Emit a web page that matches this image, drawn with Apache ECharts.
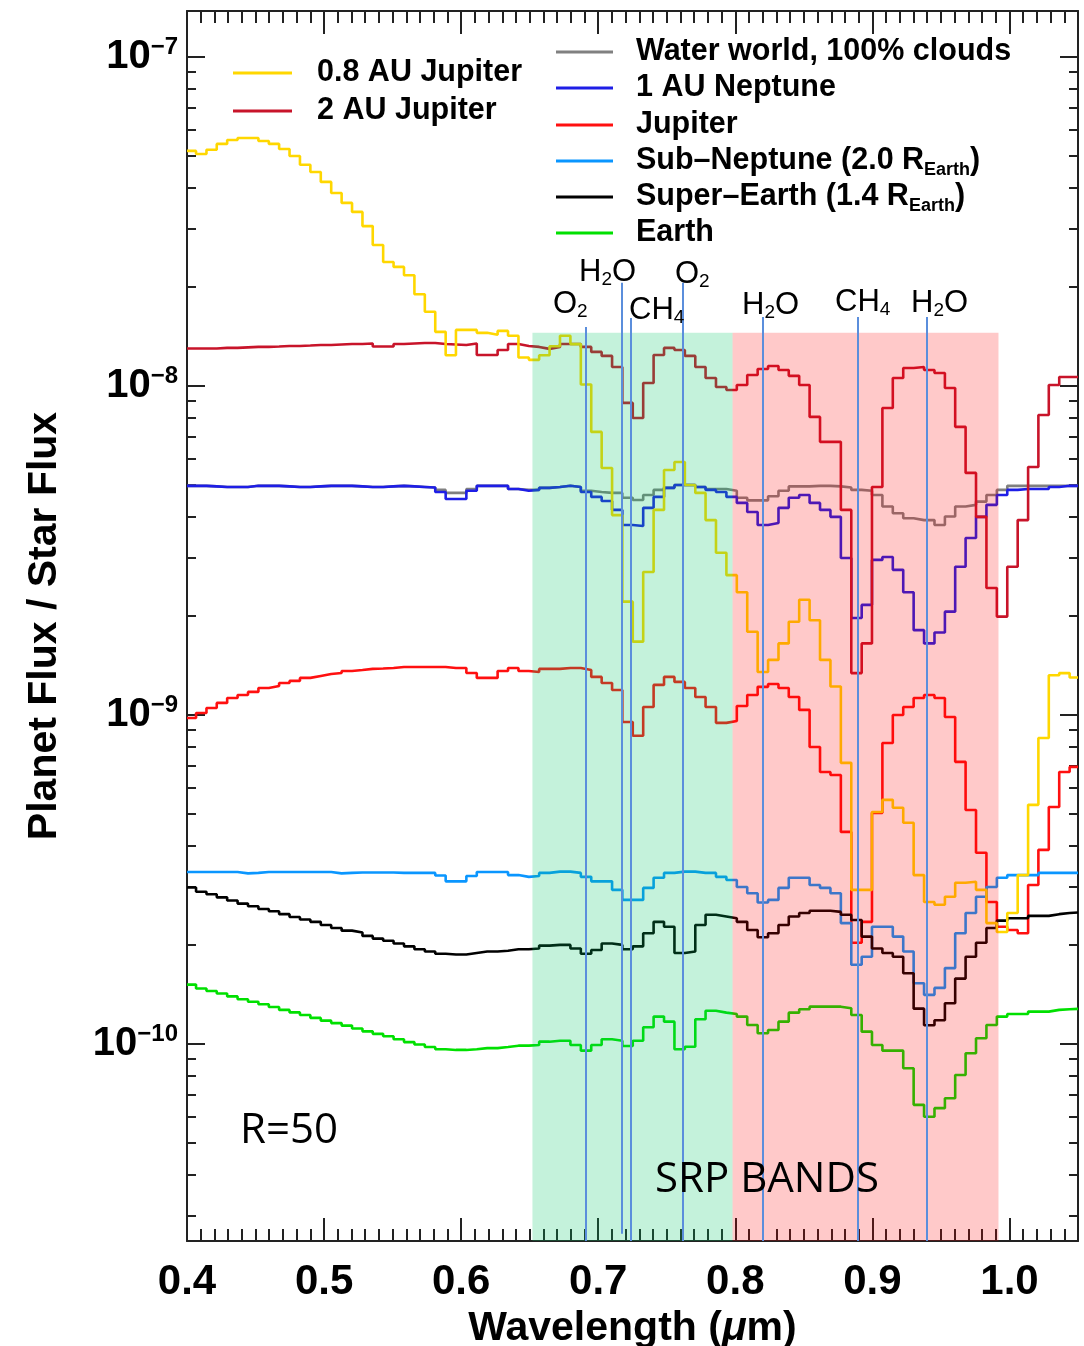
<!DOCTYPE html>
<html>
<head>
<meta charset="utf-8">
<script src="https://cdn.jsdelivr.net/npm/echarts@6/dist/echarts.min.js"></script>
<style>
html,body{margin:0;padding:0;background:#ffffff;}
#c{width:1084px;height:1346px;}
</style>
</head>
<body>
<div id="c"></div>
<script>
// ---------------- DATA ----------------
// bin start wavelengths (micron), step histogram
const WAVELENGTH = [
0.4000,0.4066,0.4142,0.4217,0.4293,0.4369,0.4445,0.4521,0.4597,0.4672,
0.4748,0.4824,0.4900,0.4976,0.5052,0.5128,0.5204,0.5280,0.5355,0.5431,
0.5507,0.5583,0.5659,0.5735,0.5811,0.5887,0.5962,0.6038,0.6114,0.6190,
0.6266,0.6342,0.6418,0.6494,0.6569,0.6645,0.6721,0.6797,0.6873,0.6949,
0.7025,0.7101,0.7176,0.7252,0.7328,0.7404,0.7480,0.7556,0.7632,0.7708,
0.7783,0.7859,0.7935,0.8011,0.8087,0.8163,0.8239,0.8315,0.8390,0.8466,
0.8542,0.8618,0.8694,0.8770,0.8846,0.8922,0.8997,0.9073,0.9149,0.9225,
0.9301,0.9377,0.9453,0.9529,0.9604,0.9680,0.9756,0.9832,0.9908,0.9984,
1.0060,1.0136,1.0211,1.0287,1.0363,1.0439];
const WAVELENGTH_END = 1.05;

const JUPITER_08AU = [
5.18e-8,5.07e-8,5.22e-8,5.44e-8,5.59e-8,5.67e-8,5.67e-8,5.55e-8,5.44e-8,5.25e-8,
5.00e-8,4.70e-8,4.47e-8,4.17e-8,3.86e-8,3.60e-8,3.38e-8,3.06e-8,2.68e-8,2.38e-8,
2.30e-8,2.17e-8,1.90e-8,1.68e-8,1.46e-8,1.24e-8,1.48e-8,1.48e-8,1.45e-8,1.43e-8,
1.47e-8,1.42e-8,1.22e-8,1.20e-8,1.24e-8,1.32e-8,1.42e-8,1.34e-8,1.01e-8,7.25e-9,
5.63e-9,4.05e-9,2.21e-9,1.67e-9,2.72e-9,4.20e-9,5.55e-9,5.87e-9,5.00e-9,4.73e-9,
3.91e-9,3.11e-9,2.66e-9,2.36e-9,1.79e-9,1.35e-9,1.47e-9,1.65e-9,1.92e-9,2.24e-9,
1.94e-9,1.47e-9,1.22e-9,7.15e-10,2.94e-10,2.94e-10,5.07e-10,5.52e-10,5.22e-10,4.70e-10,
3.26e-10,2.70e-10,2.65e-10,2.80e-10,3.09e-10,3.11e-10,2.94e-10,2.33e-10,2.19e-10,2.50e-10,
3.26e-10,5.33e-10,8.51e-10,1.32e-9,1.34e-9,1.30e-9];

const JUPITER_2AU = [
1.300e-8,1.300e-8,1.300e-8,1.305e-8,1.305e-8,1.310e-8,1.314e-8,1.314e-8,1.318e-8,1.323e-8,
1.323e-8,1.327e-8,1.332e-8,1.332e-8,1.337e-8,1.341e-8,1.341e-8,1.346e-8,1.318e-8,1.318e-8,
1.341e-8,1.346e-8,1.351e-8,1.351e-8,1.341e-8,1.337e-8,1.332e-8,1.346e-8,1.242e-8,1.242e-8,
1.286e-8,1.341e-8,1.323e-8,1.314e-8,1.296e-8,1.314e-8,1.341e-8,1.341e-8,1.314e-8,1.269e-8,
1.234e-8,1.142e-8,8.88e-9,7.99e-9,1.021e-8,1.242e-8,1.305e-8,1.286e-8,1.234e-8,1.142e-8,
1.057e-8,9.93e-9,9.72e-9,1.007e-8,1.080e-8,1.126e-8,1.150e-8,1.118e-8,1.073e-8,1.007e-8,
8.05e-9,6.76e-9,6.76e-9,4.20e-9,1.34e-9,1.65e-9,4.93e-9,8.57e-9,1.057e-8,1.134e-8,
1.142e-8,1.118e-8,1.095e-8,9.86e-9,7.51e-9,5.44e-9,4.00e-9,2.43e-9,1.99e-9,2.82e-9,
3.91e-9,5.67e-9,8.16e-9,1.007e-8,1.065e-8,1.065e-8];

const WATER_WORLD = [
4.97e-9,4.97e-9,4.95e-9,4.93e-9,4.93e-9,4.93e-9,4.97e-9,4.97e-9,4.97e-9,4.95e-9,
4.93e-9,4.93e-9,4.95e-9,4.97e-9,4.97e-9,4.97e-9,4.95e-9,4.93e-9,4.93e-9,4.95e-9,
4.97e-9,4.95e-9,4.93e-9,4.91e-9,4.83e-9,4.73e-9,4.73e-9,4.86e-9,4.97e-9,4.97e-9,
4.97e-9,4.86e-9,4.83e-9,4.83e-9,4.90e-9,4.93e-9,4.97e-9,4.93e-9,4.80e-9,4.76e-9,
4.73e-9,4.73e-9,4.57e-9,4.50e-9,4.66e-9,4.83e-9,4.90e-9,5.00e-9,5.00e-9,4.93e-9,
4.86e-9,4.86e-9,4.80e-9,4.57e-9,4.49e-9,4.49e-9,4.62e-9,4.80e-9,4.95e-9,4.95e-9,
4.97e-9,4.97e-9,4.95e-9,4.91e-9,4.83e-9,4.80e-9,4.66e-9,4.30e-9,4.10e-9,3.96e-9,
3.91e-9,3.91e-9,3.78e-9,4.01e-9,4.30e-9,4.35e-9,4.45e-9,4.66e-9,4.83e-9,4.97e-9,
4.97e-9,4.97e-9,4.97e-9,4.97e-9,4.97e-9,4.97e-9];

const NEPTUNE_1AU = [
4.97e-9,4.97e-9,4.95e-9,4.93e-9,4.93e-9,4.93e-9,4.97e-9,4.97e-9,4.97e-9,4.95e-9,
4.93e-9,4.93e-9,4.95e-9,4.97e-9,4.97e-9,4.97e-9,4.95e-9,4.93e-9,4.93e-9,4.95e-9,
4.97e-9,4.95e-9,4.93e-9,4.91e-9,4.76e-9,4.53e-9,4.53e-9,4.80e-9,4.97e-9,4.97e-9,
4.97e-9,4.86e-9,4.80e-9,4.83e-9,4.90e-9,4.93e-9,4.97e-9,4.93e-9,4.76e-9,4.60e-9,
4.47e-9,4.20e-9,3.78e-9,3.75e-9,4.26e-9,4.60e-9,4.90e-9,5.00e-9,5.00e-9,4.93e-9,
4.83e-9,4.76e-9,4.60e-9,4.41e-9,4.14e-9,3.78e-9,3.83e-9,4.26e-9,4.57e-9,4.66e-9,
4.41e-9,4.20e-9,4.00e-9,3.00e-9,1.97e-9,2.16e-9,2.96e-9,3.02e-9,2.76e-9,2.36e-9,
1.81e-9,1.65e-9,1.78e-9,2.06e-9,2.82e-9,3.45e-9,4.00e-9,4.35e-9,4.66e-9,4.83e-9,
4.86e-9,4.86e-9,4.86e-9,4.93e-9,4.97e-9,4.97e-9];

const JUPITER = [
9.79e-10,1.014e-9,1.050e-9,1.088e-9,1.126e-9,1.150e-9,1.175e-9,1.208e-9,1.225e-9,1.251e-9,
1.269e-9,1.296e-9,1.314e-9,1.332e-9,1.341e-9,1.360e-9,1.370e-9,1.380e-9,1.384e-9,1.389e-9,
1.399e-9,1.399e-9,1.399e-9,1.399e-9,1.399e-9,1.389e-9,1.389e-9,1.341e-9,1.296e-9,1.296e-9,
1.360e-9,1.389e-9,1.360e-9,1.351e-9,1.380e-9,1.380e-9,1.389e-9,1.389e-9,1.370e-9,1.305e-9,
1.251e-9,1.191e-9,9.52e-10,8.64e-10,1.057e-9,1.234e-9,1.305e-9,1.260e-9,1.208e-9,1.134e-9,
1.057e-9,9.46e-10,9.59e-10,1.065e-9,1.150e-9,1.217e-9,1.242e-9,1.208e-9,1.134e-9,1.036e-9,
7.99e-10,6.71e-10,6.57e-10,4.41e-10,2.03e-10,2.35e-10,5.04e-10,8.22e-10,1.000e-9,1.057e-9,
1.126e-9,1.150e-9,1.126e-9,9.86e-10,7.20e-10,5.14e-10,3.81e-10,2.70e-10,2.27e-10,2.22e-10,
2.17e-10,3.04e-10,3.89e-10,5.25e-10,6.71e-10,6.95e-10];

const SUB_NEPTUNE = [
3.33e-10,3.33e-10,3.33e-10,3.33e-10,3.33e-10,3.30e-10,3.31e-10,3.33e-10,3.33e-10,3.33e-10,
3.33e-10,3.33e-10,3.33e-10,3.33e-10,3.30e-10,3.31e-10,3.32e-10,3.32e-10,3.32e-10,3.32e-10,
3.31e-10,3.31e-10,3.31e-10,3.31e-10,3.25e-10,3.12e-10,3.12e-10,3.24e-10,3.33e-10,3.33e-10,
3.33e-10,3.26e-10,3.22e-10,3.24e-10,3.31e-10,3.34e-10,3.34e-10,3.31e-10,3.22e-10,3.12e-10,
3.12e-10,2.94e-10,2.74e-10,2.74e-10,2.98e-10,3.20e-10,3.31e-10,3.34e-10,3.34e-10,3.31e-10,
3.31e-10,3.22e-10,3.15e-10,3.00e-10,2.87e-10,2.69e-10,2.74e-10,2.98e-10,3.20e-10,3.20e-10,
3.04e-10,2.98e-10,2.87e-10,2.33e-10,1.74e-10,1.84e-10,2.27e-10,2.27e-10,2.12e-10,1.91e-10,
1.53e-10,1.41e-10,1.48e-10,1.70e-10,2.17e-10,2.50e-10,2.80e-10,3.00e-10,3.20e-10,3.26e-10,
3.26e-10,3.26e-10,3.31e-10,3.31e-10,3.31e-10,3.31e-10];

const SUPER_EARTH = [
2.99e-10,2.90e-10,2.85e-10,2.79e-10,2.73e-10,2.67e-10,2.62e-10,2.57e-10,2.53e-10,2.48e-10,
2.43e-10,2.39e-10,2.35e-10,2.30e-10,2.25e-10,2.21e-10,2.18e-10,2.13e-10,2.09e-10,2.06e-10,
2.02e-10,1.98e-10,1.94e-10,1.91e-10,1.88e-10,1.87e-10,1.87e-10,1.89e-10,1.91e-10,1.91e-10,
1.92e-10,1.94e-10,1.94e-10,1.95e-10,1.99e-10,2.00e-10,2.00e-10,1.95e-10,1.88e-10,1.93e-10,
2.02e-10,2.00e-10,1.94e-10,1.98e-10,2.17e-10,2.35e-10,2.27e-10,1.89e-10,1.91e-10,2.30e-10,
2.47e-10,2.44e-10,2.41e-10,2.35e-10,2.22e-10,2.11e-10,2.17e-10,2.30e-10,2.44e-10,2.50e-10,
2.54e-10,2.54e-10,2.52e-10,2.47e-10,2.38e-10,2.12e-10,1.95e-10,1.89e-10,1.84e-10,1.64e-10,
1.28e-10,1.14e-10,1.18e-10,1.33e-10,1.58e-10,1.84e-10,2.03e-10,2.25e-10,2.37e-10,2.41e-10,
2.41e-10,2.45e-10,2.45e-10,2.48e-10,2.50e-10,2.51e-10];

const EARTH = [
1.515e-10,1.474e-10,1.449e-10,1.423e-10,1.395e-10,1.367e-10,1.344e-10,1.320e-10,1.295e-10,1.269e-10,
1.247e-10,1.225e-10,1.200e-10,1.177e-10,1.157e-10,1.137e-10,1.114e-10,1.092e-10,1.073e-10,1.055e-10,
1.033e-10,1.013e-10,9.96e-11,9.79e-11,9.64e-11,9.59e-11,9.59e-11,9.64e-11,9.71e-11,9.71e-11,
9.79e-11,9.88e-11,9.88e-11,9.93e-11,1.016e-10,1.023e-10,1.023e-10,9.93e-11,9.54e-11,9.93e-11,
1.033e-10,1.023e-10,9.86e-11,1.023e-10,1.124e-10,1.211e-10,1.169e-10,9.64e-11,9.81e-11,1.189e-10,
1.262e-10,1.245e-10,1.233e-10,1.211e-10,1.142e-10,1.078e-10,1.103e-10,1.169e-10,1.245e-10,1.275e-10,
1.298e-10,1.298e-10,1.298e-10,1.284e-10,1.225e-10,1.090e-10,9.93e-11,9.54e-11,9.54e-11,8.44e-11,
6.53e-11,6.01e-11,6.38e-11,6.84e-11,8.05e-11,9.37e-11,1.041e-10,1.142e-10,1.211e-10,1.233e-10,
1.233e-10,1.254e-10,1.254e-10,1.269e-10,1.275e-10,1.278e-10];

// absorption-feature marker lines
const MOL_WL     = [0.691, 0.717, 0.724, 0.762, 0.820, 0.889, 0.940];
const MOL_TOP    = [1.51e-8, 2.06e-8, 1.61e-8, 2.06e-8, 1.62e-8, 1.62e-8, 1.62e-8];
const MOL_BOTTOM = [2.52e-11, 2.65e-11, 2.52e-11, 2.52e-11, 2.52e-11, 2.52e-11, 2.52e-11];

// SRP bands
const BAND_EDGES = [[0.652, 0.798], [0.798, 0.992]];
const BAND_TOP = 1.452e-8;

// axes
const X_MIN = 0.4, X_MAX = 1.05;
const Y_MIN = 2.518e-11, Y_MAX = 1.379e-7;
const Y_MAJOR = [1e-10, 1e-9, 1e-8, 1e-7];

// ---------------- STYLE ----------------
const FONT = '"Liberation Sans", Arial, Helvetica, sans-serif';
const AX = '#222222';
const COLORS = {
  ww: '#808080', nep: '#1e1ee6', jup: '#ff1010', sub: '#0a96ff',
  se: '#000000', earth: '#00e000', j08: '#ffd700', j2: '#c8142a'
};

const Y_MINOR = [];
for (let e = -11; e <= -7; e++) {
  for (let k = 2; k <= 9; k++) {
    const v = k * Math.pow(10, e);
    if (v > Y_MIN && v < Y_MAX) Y_MINOR.push(v);
  }
}

function stepData(vals) {
  const d = WAVELENGTH.map((w, i) => [w, vals[i]]);
  d.push([WAVELENGTH_END, vals[vals.length - 1]]);
  return d;
}

function xAxisDef(pos, interval, len, showLine, showLabel, extra) {
  return Object.assign({
    type: 'value', position: pos, min: X_MIN, max: X_MAX, interval: interval,
    axisLine: { show: showLine, onZero: false, lineStyle: { color: AX, width: 2 } },
    axisTick: { show: true, inside: true, length: len, lineStyle: { color: AX, width: 2 } },
    axisLabel: { show: false },
    splitLine: { show: false }, minorTick: { show: false }, minorSplitLine: { show: false }
  }, extra || {});
}

function yAxisDef(pos, ticks, len, showLine, extra) {
  return Object.assign({
    type: 'log', logBase: 10, position: pos, min: Y_MIN, max: Y_MAX,
    axisLine: { show: showLine, onZero: false, lineStyle: { color: AX, width: 2 } },
    axisTick: { show: true, inside: true, length: len, customValues: ticks, lineStyle: { color: AX, width: 2 } },
    axisLabel: { show: false },
    splitLine: { show: false }, minorTick: { show: false }, minorSplitLine: { show: false }
  }, extra || {});
}

const xAxes = [
  xAxisDef('bottom', 0.1, 23, true, true, {
    axisLabel: {
      show: true, margin: 20, color: '#000', fontFamily: FONT, fontWeight: 'bold', fontSize: 42,
      showMaxLabel: false,
      formatter: function (v) {
        const r = Math.round(v * 10) / 10;
        return (Math.abs(v - r) < 1e-9 && v < 1.001) ? r.toFixed(1) : '';
      }
    },
    name: '{n|Wavelength (}{i|μ}{n|m)}', nameLocation: 'middle', nameGap: 62,
    nameTextStyle: {
      rich: {
        n: { fontFamily: FONT, fontWeight: 'bold', fontSize: 41, color: '#000' },
        i: { fontFamily: FONT, fontWeight: 'bold', fontStyle: 'italic', fontSize: 41, color: '#000' }
      }
    }
  }),
  xAxisDef('bottom', 0.01, 12, false, false),
  xAxisDef('top', 0.1, 23, true, false),
  xAxisDef('top', 0.01, 12, false, false)
];

const yAxes = [
  yAxisDef('left', Y_MAJOR, 18, true, {
    axisLabel: {
      show: true, customValues: Y_MAJOR, margin: 9,
      formatter: function (v) {
        return '{b|10}{s|\u2212' + Math.round(-Math.log10(v)) + '}';
      },
      rich: {
        b: { fontFamily: FONT, fontWeight: 'bold', fontSize: 40, lineHeight: 44, color: '#000' },
        s: { fontFamily: FONT, fontWeight: 'bold', fontSize: 24, lineHeight: 24, color: '#000', verticalAlign: 'top' }
      }
    },
    name: 'Planet Flux / Star Flux', nameLocation: 'middle', nameGap: 122,
    nameTextStyle: { fontFamily: FONT, fontWeight: 'bold', fontSize: 41, color: '#000' }
  }),
  yAxisDef('left', Y_MINOR, 9, false),
  yAxisDef('right', Y_MAJOR, 18, true),
  yAxisDef('right', Y_MINOR, 9, false)
];

function lineSeries(name, vals, color, extra) {
  return Object.assign({
    type: 'line', name: name, data: stepData(vals), step: 'end',
    xAxisIndex: 0, yAxisIndex: 0, showSymbol: false, symbol: 'none',
    lineStyle: { color: color, width: 2.6 }, itemStyle: { color: color },
    z: 2, silent: true, animation: false, clip: true
  }, extra || {});
}

const series = [
  lineSeries('Water world, 100% clouds', WATER_WORLD, COLORS.ww),
  lineSeries('1 AU Neptune', NEPTUNE_1AU, COLORS.nep),
  lineSeries('Jupiter', JUPITER, COLORS.jup),
  lineSeries('Sub–Neptune (2.0 R_Earth)', SUB_NEPTUNE, COLORS.sub),
  lineSeries('Super–Earth (1.4 R_Earth)', SUPER_EARTH, COLORS.se),
  lineSeries('2 AU Jupiter', JUPITER_2AU, COLORS.j2),
  lineSeries('0.8 AU Jupiter', JUPITER_08AU, COLORS.j08),
  lineSeries('Earth', EARTH, COLORS.earth, {
    markArea: {
      silent: true, z: 3, label: { show: false },
      data: [
        [{ xAxis: BAND_EDGES[0][0], yAxis: BAND_TOP, itemStyle: { color: 'rgba(0,200,100,0.23)' } },
         { xAxis: BAND_EDGES[0][1], yAxis: Y_MIN }],
        [{ xAxis: BAND_EDGES[1][0], yAxis: BAND_TOP, itemStyle: { color: 'rgba(255,0,0,0.21)' } },
         { xAxis: BAND_EDGES[1][1], yAxis: Y_MIN }]
      ]
    },
    markLine: {
      silent: true, z: 5, symbol: ['none', 'none'], label: { show: false },
      lineStyle: { color: '#5b8edc', width: 2, type: 'solid' },
      data: MOL_WL.map((w, i) => [{ coord: [w, MOL_TOP[i]] }, { coord: [w, MOL_BOTTOM[i]] }])
    }
  })
];

// ---------------- LEGEND / ANNOTATIONS (graphic) ----------------
const LEG_FONT = 30.5;
const legendLeft = [
  { label: '0.8 AU Jupiter', color: COLORS.j08, y: 73 },
  { label: '2 AU Jupiter', color: COLORS.j2, y: 111 }
];
const legendRight = [
  { label: 'Water world, 100% clouds', color: COLORS.ww, y: 52 },
  { label: '1 AU Neptune', color: COLORS.nep, y: 88 },
  { label: 'Jupiter', color: COLORS.jup, y: 125 },
  { label: 'Sub–Neptune (2.0 R', sub: 'Earth', color: COLORS.sub, y: 161 },
  { label: 'Super–Earth (1.4 R', sub: 'Earth', color: COLORS.se, y: 197 },
  { label: 'Earth', color: COLORS.earth, y: 233 }
];
const legRich = {
  a: { fontFamily: FONT, fontWeight: 'bold', fontSize: LEG_FONT, lineHeight: 36, fill: '#000', color: '#000' },
  s: { fontFamily: FONT, fontWeight: 'bold', fontSize: 18, lineHeight: 14, fill: '#000', color: '#000', verticalAlign: 'bottom' }
};
const graphics = [];
function addLegend(items, x1, x2, tx) {
  items.forEach(it => {
    graphics.push({ type: 'line', z: 10, shape: { x1: x1, y1: it.y, x2: x2, y2: it.y },
      style: { stroke: it.color, lineWidth: 3 } });
    const txt = it.sub ? '{a|' + it.label + '}{s|' + it.sub + '}{a|)}' : '{a|' + it.label + '}';
    graphics.push({ type: 'text', z: 10, style: { x: tx, y: it.y, text: txt, rich: legRich,
      align: 'left', verticalAlign: 'middle' } });
  });
}
addLegend(legendLeft, 233, 292, 317);
addLegend(legendRight, 556, 613, 636);

// molecule labels
const molRich = {
  m: { fontFamily: FONT, fontSize: 31, lineHeight: 34, fill: '#000', color: '#000' },
  s: { fontFamily: FONT, fontSize: 19, lineHeight: 2, fill: '#000', color: '#000', verticalAlign: 'bottom' }
};
const MOL_LABELS = [
  { t: '{m|O}{s|2}', x: 553, y: 304 },
  { t: '{m|H}{s|2}{m|O}', x: 579, y: 272 },
  { t: '{m|CH}{s|4}', x: 629, y: 310 },
  { t: '{m|O}{s|2}', x: 675, y: 274 },
  { t: '{m|H}{s|2}{m|O}', x: 742, y: 305 },
  { t: '{m|CH}{s|4}', x: 835, y: 302 },
  { t: '{m|H}{s|2}{m|O}', x: 911, y: 303 }
];
MOL_LABELS.forEach(l => {
  graphics.push({ type: 'text', z: 10, style: { x: l.x, y: l.y, text: l.t, rich: molRich,
    align: 'left', verticalAlign: 'middle' } });
});

graphics.push({ type: 'text', z: 10, style: { x: 240, y: 1131, text: 'R=50',
  font: '42px "Open Sans", sans-serif', fill: '#000', align: 'left', verticalAlign: 'middle' } });
graphics.push({ type: 'text', z: 10, style: { x: 655, y: 1180, text: 'SRP BANDS',
  font: '42px "Open Sans", sans-serif', fill: '#000', align: 'left', verticalAlign: 'middle' } });

// ---------------- CHART ----------------
const chart = echarts.init(document.getElementById('c'), null, { renderer: 'canvas', width: 1084, height: 1346 });
chart.setOption({
  backgroundColor: '#ffffff',
  animation: false,
  grid: { left: 187, right: 6, top: 11, bottom: 105, show: false, containLabel: false, outerBoundsMode: 'none' },
  xAxis: xAxes,
  yAxis: yAxes,
  series: series,
  graphic: graphics
});
</script>
</body>
</html>
